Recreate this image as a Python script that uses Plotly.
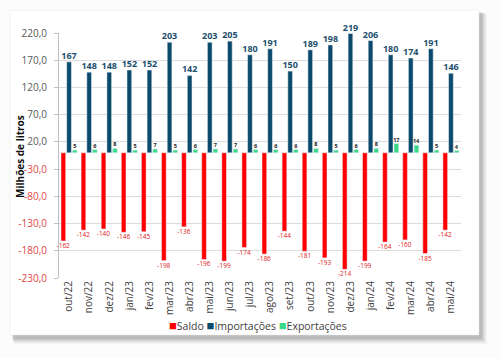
import plotly.graph_objects as go

meses = ["out/22", "nov/22", "dez/22", "jan/23", "fev/23", "mar/23", "abr/23", "mai/23",
         "jun/23", "jul/23", "ago/23", "set/23", "out/23", "nov/23", "dez/23", "jan/24",
         "fev/24", "mar/24", "abr/24", "mai/24"]
importacoes = [167, 148, 148, 152, 152, 203, 142, 203, 205, 180, 191, 150, 189, 198, 219, 206, 180, 174, 191, 146]
exportacoes = [5, 6, 8, 5, 7, 5, 6, 7, 7, 6, 6, 6, 8, 5, 6, 8, 17, 14, 5, 4]
saldo = [-162, -142, -140, -146, -145, -198, -136, -196, -199, -174, -186, -144, -181, -193, -214, -199, -164, -160, -185, -142]
y_ticks = list(range(-230, 221, 50))
series_names = ["Saldo", "Importações", "Exportações"]

RED = "#FF0000"
BLUE = "#0B4A6B"
GREEN = "#3AD98A"
FONT = "Open Sans"

fig = go.Figure()
fig.add_trace(go.Bar(name=series_names[0], x=meses, y=saldo, marker_color=RED,
                     text=[str(v) for v in saldo], textposition="outside",
                     textfont=dict(size=6.5, color="#E02020", family=FONT),
                     constraintext="none", cliponaxis=False))
fig.add_trace(go.Bar(name=series_names[1], x=meses, y=importacoes, marker_color=BLUE,
                     text=[str(v) for v in importacoes], textposition="outside",
                     textfont=dict(size=9, color="#23506E", family=FONT),
                     texttemplate="<b>%{text}</b>",
                     constraintext="none", cliponaxis=False))
fig.add_trace(go.Bar(name=series_names[2], x=meses, y=exportacoes, marker_color=GREEN,
                     text=[str(v) for v in exportacoes], textposition="outside",
                     textfont=dict(size=5.5, color="#222222", family=FONT),
                     texttemplate="<b>%{text}</b>",
                     constraintext="none", cliponaxis=False))

ticktext = []
for v in y_ticks:
    s = f"{v},0"
    if v < 0:
        ticktext.append(f"<span style='color:#E04848'>{s}</span>")
    else:
        ticktext.append(s)

# card + shadow
shapes = []
x0, x1, y0, y1 = -0.1219, 1.0448, -0.2327, 1.0939
for i, op in enumerate([0.04, 0.05, 0.06, 0.07, 0.08, 0.09]):
    d = (6 - i) * 1.0
    shapes.append(dict(type="rect", xref="paper", yref="paper", layer="below",
                       x0=x0 + (2 + d * 0.3) / 402, x1=x1 + (2 + d) / 402,
                       y0=y0 - (3 + d) / 245, y1=y1 - (2 + d * 0.3) / 245,
                       fillcolor=f"rgba(60,60,60,{op})", line=dict(width=0)))
shapes.append(dict(type="rect", xref="paper", yref="paper", layer="below",
                   x0=x0, x1=x1, y0=y0, y1=y1, fillcolor="white",
                   line=dict(width=0.5, color="#E6E6E6")))

colors = [RED, BLUE, GREEN]
legend_text = " ".join(f"<span style='color:{c};font-size:13px'>■</span>{n}"
                       for c, n in zip(colors, series_names))

fig.update_layout(
    width=500, height=358,
    margin=dict(l=59, r=39, t=33, b=80),
    paper_bgcolor="#FCFCFC", plot_bgcolor="rgba(0,0,0,0)",
    barmode="group", bargap=0.15, bargroupgap=0.18,
    font=dict(family=FONT, color="#595959"),
    showlegend=False,
    shapes=shapes,
    annotations=[
        dict(text=legend_text, xref="paper", yref="paper", x=0.495, y=-0.192,
             xanchor="center", yanchor="middle", showarrow=False,
             font=dict(size=10.5, color="#404040", family=FONT)),
        dict(text="<b>Milhões de litros</b>", xref="paper", yref="paper", x=-0.097, y=0.494,
             xanchor="center", yanchor="middle", textangle=-90, showarrow=False,
             font=dict(size=10, color="#111111", family=FONT)),
    ],
    xaxis=dict(tickangle=-90, tickfont=dict(size=10, color="#404040", family=FONT),
               showgrid=False, showline=False, ticks="", type="category", automargin=False),
    yaxis=dict(range=[-230, 220], tickvals=y_ticks, ticktext=ticktext, automargin=False,
               tickfont=dict(size=10, color="#595959", family=FONT),
               showgrid=True, gridcolor="#DCDCDC", gridwidth=1,
               zeroline=False, showline=True, linecolor="#BFBFBF", linewidth=1,
               ticks="outside", ticklen=4, tickcolor="#BFBFBF", ticklabelstandoff=5),
)

fig.write_html("out.html", config={"displayModeBar": False},
               post_script="document.body.style.margin='0';document.body.style.overflow='hidden';")
